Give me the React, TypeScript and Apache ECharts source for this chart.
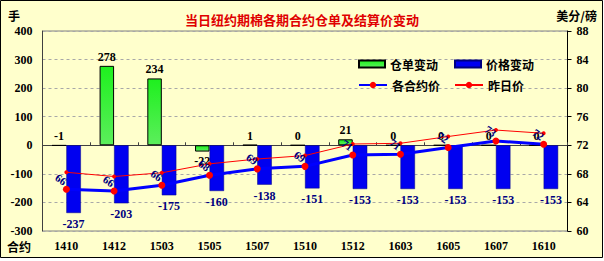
import React, { useEffect, useRef } from "react";
import * as echarts from "echarts";

const categories = ["1410", "1412", "1503", "1505", "1507", "1510", "1512", "1603", "1605", "1607", "1610"];
const warrantChange = [-1, 278, 234, -22, 1, 0, 21, 0, 0, 0, 0];
const priceChange = [-237, -203, -175, -160, -138, -151, -153, -153, -153, -153, -153];
const contractPrice = [65.85, 65.6, 66.4, 67.8, 68.7, 69.05, 70.65, 70.75, 71.7, 72.6, 72.15];
const prevPrice = [68.22, 67.63, 68.15, 69.4, 70.08, 70.56, 72.18, 72.28, 73.23, 74.13, 73.68];
const leftTicks = [-300, -200, -100, 0, 100, 200, 300, 400];
const rightTicks = [60, 64, 68, 72, 76, 80, 84, 88];

const titleText = "当日纽约期棉各期合约仓单及结算价变动";
const numFont = "'Liberation Serif', 'Times New Roman', serif";
const cjkFont = "'Noto Sans CJK SC', sans-serif";

export default function App() {
  const ref = useRef<HTMLDivElement>(null);
  useEffect(() => {
    if (!ref.current) return;
    const chart = echarts.init(ref.current, undefined, { renderer: "svg" });
    const numLabel = { fontFamily: numFont, fontWeight: "bold" as const, fontSize: 12, color: "#000" };
    chart.setOption({
      animation: false,
      backgroundColor: "#ffffff",
      graphic: [
        {
          type: "rect",
          z: -10,
          shape: { x: 0.5, y: 0.5, width: 602, height: 257 },
          style: { fill: "#FFFFCC", stroke: "#000", lineWidth: 1 },
        },
        { type: "text", left: 8, top: 9, style: { text: "手", font: `bold 12px ${cjkFont}`, fill: "#000" } },
        { type: "text", right: 7, top: 9, style: { text: "美分/磅", font: `bold 12px ${cjkFont}`, fill: "#000" } },
        { type: "text", left: 7, top: 240, style: { text: "合约", font: `bold 12px ${cjkFont}`, fill: "#000" } },
      ],
      title: {
        text: titleText,
        left: "center",
        top: 8,
        textStyle: { color: "#E00000", fontSize: 13, fontWeight: "bold", fontFamily: cjkFont },
      },
      legend: [
        {
          data: ["仓单变动", "价格变动"],
          left: 353,
          top: 53,
          itemWidth: 26,
          itemHeight: 7,
          itemGap: 16,
          icon: "rect",
          textStyle: { fontFamily: cjkFont, fontWeight: "bold", fontSize: 12, color: "#000" },
        },
        {
          data: ["各合约价", "昨日价"],
          left: 353,
          top: 74,
          itemWidth: 28,
          itemHeight: 8,
          itemGap: 14,
          textStyle: { fontFamily: cjkFont, fontWeight: "bold", fontSize: 12, color: "#000" },
        },
      ],
      grid: {
        left: 42.5,
        right: 36.5,
        top: 31,
        bottom: 30,
        show: true,
        borderColor: "#808080",
        borderWidth: 1,
        backgroundColor: "transparent",
      },
      xAxis: [
        {
          type: "category",
          data: categories,
          position: "bottom",
          axisLine: { show: true, onZero: true, onZeroAxisIndex: 0, lineStyle: { color: "#404040", width: 1 } },
          axisTick: { show: true, inside: true, length: 3, lineStyle: { color: "#404040" } },
          axisLabel: { show: false },
          splitLine: { show: false },
        },
        {
          type: "category",
          data: categories,
          position: "bottom",
          axisLine: { show: false, onZero: false },
          axisTick: { show: false },
          axisLabel: { ...numLabel, margin: 9 },
          splitLine: { show: false },
        },
      ],
      yAxis: [
        {
          type: "value",
          position: "left",
          min: leftTicks[0],
          max: leftTicks[leftTicks.length - 1],
          interval: leftTicks[1] - leftTicks[0],
          axisLine: { show: true, lineStyle: { color: "#404040" } },
          axisTick: { show: false },
          axisLabel: { ...numLabel, margin: 10 },
          splitLine: { show: true, lineStyle: { color: "#a8a8a8", type: [3, 3] } },
        },
        {
          type: "value",
          position: "right",
          min: rightTicks[0],
          max: rightTicks[rightTicks.length - 1],
          interval: rightTicks[1] - rightTicks[0],
          axisLine: { show: true, lineStyle: { color: "#000" } },
          axisTick: { show: true, length: 4, lineStyle: { color: "#000" } },
          axisLabel: { ...numLabel, margin: 9 },
          splitLine: { show: false },
        },
      ],
      series: [
        {
          name: "仓单变动",
          type: "bar",
          xAxisIndex: 0,
          yAxisIndex: 0,
          barWidth: 14.5,
          barGap: "0%",
          data: warrantChange.map((v) => ({
            value: v,
            label: { position: v < -10 ? "bottom" : "top" },
          })),
          itemStyle: {
            color: new echarts.graphic.LinearGradient(0, 0, 0, 1, [
              { offset: 0, color: "#1EF01E" },
              { offset: 1, color: "#5CEE5C" },
            ]),
            borderColor: "#000",
            borderWidth: 1,
          },
          label: { show: true, ...numLabel, distance: 3 },
        },
        {
          name: "价格变动",
          type: "bar",
          xAxisIndex: 0,
          yAxisIndex: 0,
          barWidth: 14.5,
          barGap: "0%",
          data: priceChange,
          itemStyle: { color: "#0000F0", borderColor: "#000080", borderWidth: 0.5 },
          label: { show: true, position: "bottom", ...numLabel, color: "#000080", distance: 5 },
        },
        {
          name: "各合约价",
          type: "line",
          xAxisIndex: 0,
          yAxisIndex: 1,
          data: contractPrice,
          symbol: "circle",
          symbolSize: 7,
          itemStyle: { color: "#FF0000" },
          lineStyle: { color: "#0000FF", width: 3 },
          label: {
            show: true,
            position: "inside",
            offset: [-10, -5],
            rotate: -35,
            align: "center",
            verticalAlign: "middle",
            formatter: (p: any) => String(Math.round(p.value)),
            fontFamily: numFont,
            fontWeight: "bold",
            fontSize: 11,
            color: "#000080",
          },
        },
        {
          name: "昨日价",
          type: "line",
          xAxisIndex: 0,
          yAxisIndex: 1,
          data: prevPrice,
          symbol: "circle",
          symbolSize: 4,
          itemStyle: { color: "#FF0000" },
          lineStyle: { color: "#FF0000", width: 1 },
        },
      ],
    });
    return () => chart.dispose();
  }, []);
  return (
    <div style={{ position: "absolute", left: 0, top: 0, width: 604, height: 261 }}>
      <div ref={ref} style={{ width: 604, height: 261 }} />
    </div>
  );
}
